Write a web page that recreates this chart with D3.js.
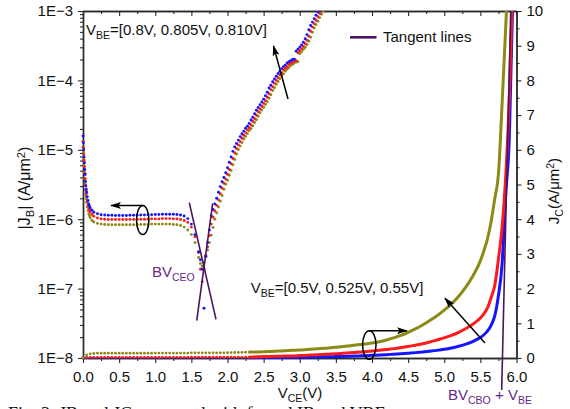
<!DOCTYPE html>
<html>
<head>
<meta charset="utf-8">
<script src="https://cdn.jsdelivr.net/npm/d3@7"></script>
<style>
  html, body { margin: 0; padding: 0; background: #fff; }
  svg { display: block; font-family: "Liberation Sans", Arial, Helvetica, sans-serif; }
</style>
</head>
<body>
<svg id="chart" width="570" height="409"></svg>
<script>
// ---------- data ----------
// |J_B| (A/um^2) vs V_CE for V_BE = 0.8 V (olive), 0.805 V (red), 0.810 V (blue)
const vB = [
  0, 0.005, 0.01, 0.015, 0.02, 0.025, 0.03, 0.035, 0.04, 0.045, 0.05, 0.06, 0.07, 0.08, 0.09, 0.10, 0.125, 0.15,
  0.20, 0.25, 0.30, 0.35, 0.40, 0.45, 0.50, 0.55, 0.60, 0.65, 0.70, 0.75, 0.80, 0.85, 0.90, 0.95, 1.00, 1.05,
  1.10, 1.15, 1.20, 1.25, 1.30, 1.35, 1.40, 1.45, 1.50, 1.55, 1.60,
  1.625, 1.65, 1.675, 1.70, 1.725,
  1.75, 1.775, 1.80, 1.825, 1.85, 1.875, 1.90, 1.925, 1.95, 1.975, 2.00, 2.025, 2.05, 2.075, 2.10, 2.125,
  2.15, 2.175, 2.20, 2.225, 2.25, 2.275, 2.30, 2.325, 2.35, 2.375, 2.40, 2.425, 2.45, 2.475, 2.50, 2.525,
  2.55, 2.575, 2.60, 2.625, 2.65, 2.675, 2.70, 2.725, 2.75, 2.775, 2.80, 2.825, 2.85, 2.875, 2.90, 2.925,
  2.95, 2.975, 3.00, 3.025, 3.05, 3.075, 3.10, 3.125, 3.15, 3.175, 3.20, 3.225, 3.25, 3.275, 3.30, 3.325, 3.35
];
const jbBlue = [
  1.58e-5, 1.26e-5, 1.00e-5, 7.9e-6, 6.5e-6, 5.2e-6, 4.4e-6, 3.5e-6, 3.0e-6, 2.7e-6, 2.45e-6, 2.1e-6, 1.86e-6, 1.66e-6, 1.55e-6, 1.45e-6, 1.35e-6, 1.26e-6,
  1.20e-6, 1.16e-6, 1.15e-6, 1.14e-6, 1.14e-6, 1.13e-6, 1.13e-6, 1.13e-6, 1.13e-6, 1.14e-6, 1.14e-6, 1.14e-6, 1.15e-6, 1.15e-6, 1.16e-6, 1.16e-6, 1.17e-6, 1.17e-6,
  1.18e-6, 1.18e-6, 1.18e-6, 1.18e-6, 1.17e-6, 1.15e-6, 1.11e-6, 1.02e-6, 8.5e-7, 6.0e-7, 3.4e-7,
  2.6e-7, 1.9e-7, 5.2e-8, 2.9e-7, 4.6e-7,
  7.0e-7, 1.12e-6, 1.38e-6, 1.66e-6, 2.0e-6, 2.45e-6, 2.95e-6, 3.47e-6, 3.98e-6, 4.68e-6, 5.5e-6, 6.6e-6, 7.9e-6, 9.5e-6, 1.10e-5, 1.23e-5,
  1.38e-5, 1.55e-5, 1.70e-5, 1.86e-5, 2.04e-5, 2.19e-5, 2.40e-5, 2.69e-5, 2.95e-5, 3.31e-5, 3.72e-5, 4.07e-5, 4.47e-5, 4.90e-5, 5.37e-5, 6.03e-5,
  6.76e-5, 7.76e-5, 8.51e-5, 9.55e-5, 1.05e-4, 1.15e-4, 1.26e-4, 1.35e-4, 1.48e-4, 1.58e-4, 1.66e-4, 1.78e-4, 1.86e-4, 1.93e-4, 2.00e-4, 2.02e-4,
  2.63e-4, 2.82e-4, 3.02e-4, 3.24e-4, 3.55e-4, 3.98e-4, 4.57e-4, 5.37e-4, 6.17e-4, 6.92e-4, 7.76e-4, 8.71e-4, 9.77e-4, 1.10e-3, 1.23e-3, 1.38e-3, 1.55e-3
];
const jbRed = [
  1.32e-5, 1.08e-5, 8.7e-6, 7.0e-6, 5.7e-6, 4.6e-6, 3.8e-6, 3.1e-6, 2.6e-6, 2.3e-6, 2.1e-6, 1.8e-6, 1.6e-6, 1.45e-6, 1.35e-6, 1.27e-6, 1.17e-6, 1.10e-6,
  1.04e-6, 1.01e-6, 1.00e-6, 0.99e-6, 0.99e-6, 0.99e-6, 0.99e-6, 0.99e-6, 0.99e-6, 0.99e-6, 0.99e-6, 1.00e-6, 1.00e-6, 1.00e-6, 1.00e-6, 1.01e-6, 1.01e-6, 1.01e-6,
  1.02e-6, 1.02e-6, 1.02e-6, 1.01e-6, 1.01e-6, 0.99e-6, 0.96e-6, 9.0e-7, 7.7e-7, 5.6e-7, 3.3e-7,
  1.9e-7, 1.25e-7, 1.9e-7, 3.0e-7, 4.0e-7,
  5.8e-7, 8.5e-7, 1.07e-6, 1.31e-6, 1.58e-6, 1.90e-6, 2.33e-6, 2.80e-6, 3.30e-6, 3.78e-6, 4.45e-6, 5.2e-6, 6.3e-6, 7.5e-6, 9.0e-6, 1.04e-5,
  1.17e-5, 1.31e-5, 1.47e-5, 1.62e-5, 1.77e-5, 1.94e-5, 2.08e-5, 2.28e-5, 2.56e-5, 2.80e-5, 3.14e-5, 3.53e-5, 3.87e-5, 4.25e-5, 4.66e-5, 5.10e-5,
  5.73e-5, 6.42e-5, 7.37e-5, 8.08e-5, 9.07e-5, 1.00e-4, 1.09e-4, 1.20e-4, 1.28e-4, 1.41e-4, 1.50e-4, 1.58e-4, 1.69e-4, 1.77e-4, 1.83e-4, 1.90e-4,
  1.92e-4, 2.50e-4, 2.68e-4, 2.87e-4, 3.08e-4, 3.37e-4, 3.78e-4, 4.34e-4, 5.10e-4, 5.86e-4, 6.57e-4, 7.37e-4, 8.27e-4, 9.28e-4, 1.04e-3, 1.17e-3, 1.31e-3
];
const jbOlive = [
  1.10e-5, 9.0e-6, 7.3e-6, 5.9e-6, 4.8e-6, 3.9e-6, 3.2e-6, 2.65e-6, 2.25e-6, 1.95e-6, 1.75e-6, 1.5e-6, 1.33e-6, 1.2e-6, 1.12e-6, 1.05e-6, 9.6e-7, 9.1e-7,
  8.7e-7, 8.5e-7, 8.4e-7, 8.3e-7, 8.3e-7, 8.3e-7, 8.3e-7, 8.3e-7, 8.3e-7, 8.3e-7, 8.3e-7, 8.4e-7, 8.4e-7, 8.4e-7, 8.4e-7, 8.5e-7, 8.5e-7, 8.5e-7,
  8.5e-7, 8.5e-7, 8.5e-7, 8.4e-7, 8.3e-7, 8.1e-7, 7.7e-7, 7.0e-7, 6.0e-7, 4.6e-7, 2.8e-7,
  2.3e-7, 2.1e-7, 2.4e-7, 2.9e-7, 3.6e-7,
  4.6e-7, 5.9e-7, 7.6e-7, 1.00e-6, 1.24e-6, 1.50e-6, 1.82e-6, 2.20e-6, 2.70e-6, 3.20e-6, 3.65e-6, 4.30e-6, 5.05e-6, 6.10e-6, 7.25e-6, 8.70e-6,
  1.01e-5, 1.13e-5, 1.27e-5, 1.43e-5, 1.56e-5, 1.71e-5, 1.88e-5, 2.01e-5, 2.21e-5, 2.47e-5, 2.71e-5, 3.05e-5, 3.42e-5, 3.74e-5, 4.11e-5, 4.51e-5,
  4.94e-5, 5.55e-5, 6.22e-5, 7.14e-5, 7.83e-5, 8.79e-5, 9.66e-5, 1.06e-4, 1.16e-4, 1.24e-4, 1.36e-4, 1.45e-4, 1.53e-4, 1.64e-4, 1.71e-4, 1.78e-4,
  1.84e-4, 1.86e-4, 2.42e-4, 2.59e-4, 2.78e-4, 2.98e-4, 3.27e-4, 3.66e-4, 4.20e-4, 4.94e-4, 5.68e-4, 6.37e-4, 7.14e-4, 8.01e-4, 8.99e-4, 1.01e-3, 1.13e-3
];

// J_C (A/um^2) vs V_CE for V_BE = 0.5 V (blue), 0.525 V (red), 0.55 V (olive)
const vC = [
  0, 0.05, 0.1, 0.15, 0.2, 0.25, 0.3, 0.35, 0.4, 0.45, 0.5, 0.55, 0.6, 0.65, 0.7, 0.75, 0.8, 0.85, 0.9, 0.95,
  1.0, 1.05, 1.1, 1.15, 1.2, 1.25, 1.3, 1.35, 1.4, 1.45, 1.5, 1.55, 1.6, 1.65, 1.7, 1.75, 1.8, 1.85, 1.9, 1.95,
  2.0, 2.05, 2.1, 2.15, 2.2, 2.25, 2.3,
  2.4, 2.5, 2.6, 2.7, 2.8, 2.9, 3.0, 3.1, 3.2, 3.3, 3.4, 3.5, 3.6, 3.7, 3.8, 3.9, 4.0, 4.1, 4.2, 4.3, 4.4, 4.5,
  4.6, 4.7, 4.8, 4.9, 5.0, 5.1, 5.2, 5.3, 5.4, 5.5,
  5.55, 5.6, 5.65, 5.7, 5.75, 5.8, 5.85, 5.9, 5.95, 6.0
];
const jcOlive = [
  0, 0.09, 0.12, 0.13, 0.14, 0.14, 0.14, 0.14, 0.14, 0.14, 0.14, 0.14, 0.14, 0.14, 0.14, 0.14, 0.14, 0.14, 0.14, 0.14,
  0.142, 0.142, 0.142, 0.142, 0.142, 0.142, 0.142, 0.142, 0.142, 0.142, 0.148, 0.148, 0.148, 0.148, 0.148, 0.148, 0.148, 0.148, 0.148, 0.148,
  0.152, 0.155, 0.158, 0.16, 0.163, 0.166, 0.17,
  0.175, 0.18, 0.19, 0.2, 0.21, 0.22, 0.23, 0.245, 0.26, 0.275, 0.29, 0.31, 0.33, 0.355, 0.38, 0.405, 0.43, 0.47, 0.52, 0.58, 0.65, 0.74,
  0.84, 0.95, 1.08, 1.22, 1.38, 1.56, 1.78, 2.05, 2.38, 2.8,
  3.1, 3.45, 3.95, 4.6, 5.3, 7.3, 9.5, 11.8, 14, 16
];
const jcRed = [
  0, 0.015, 0.02, 0.02, 0.02, 0.02, 0.02, 0.02, 0.02, 0.02, 0.02, 0.02, 0.02, 0.02, 0.02, 0.02, 0.02, 0.02, 0.02, 0.02,
  0.02, 0.02, 0.02, 0.02, 0.02, 0.02, 0.02, 0.02, 0.02, 0.02, 0.025, 0.025, 0.025, 0.025, 0.025, 0.025, 0.025, 0.025, 0.025, 0.025,
  0.025, 0.025, 0.025, 0.025, 0.025, 0.025, 0.025,
  0.035, 0.04, 0.045, 0.05, 0.055, 0.06, 0.07, 0.08, 0.09, 0.1, 0.11, 0.12, 0.135, 0.15, 0.165, 0.18, 0.2, 0.22, 0.245, 0.27, 0.3, 0.33,
  0.37, 0.41, 0.46, 0.52, 0.58, 0.65, 0.74, 0.85, 0.98, 1.15,
  1.28, 1.45, 1.75, 2.1, 2.85, 3.75, 5.2, 7.5, 11, 15
];
const jcBlue = [
  0, 0.005, 0.006, 0.006, 0.006, 0.006, 0.006, 0.006, 0.006, 0.006, 0.006, 0.006, 0.006, 0.006, 0.006, 0.006, 0.006, 0.006, 0.006, 0.006,
  0.006, 0.006, 0.006, 0.006, 0.006, 0.006, 0.006, 0.006, 0.006, 0.006, 0.008, 0.008, 0.008, 0.008, 0.008, 0.008, 0.008, 0.008, 0.008, 0.008,
  0.008, 0.008, 0.008, 0.008, 0.008, 0.008, 0.008,
  0.012, 0.013, 0.014, 0.016, 0.018, 0.02, 0.022, 0.025, 0.028, 0.032, 0.036, 0.04, 0.046, 0.052, 0.059, 0.067, 0.076, 0.086, 0.097, 0.11, 0.123, 0.138,
  0.155, 0.174, 0.196, 0.22, 0.25, 0.29, 0.34, 0.4, 0.48, 0.59,
  0.67, 0.78, 0.95, 1.22, 1.8, 2.7, 4.7, 6.3, 10.5, 16
];
// below this V_CE the J_C sweep is shown as markers, above it as a line
const jcLineFrom = 2.3;

// tangent lines: [V_CE, J] end points
const tangentCEO = [
  [[1.471, 1.73e-6], [1.841, 3.6e-8]],
  [[1.795, 1.69e-6], [1.574, 3.45e-8]]
];
const tangentCBO = [[5.795, -0.92], [5.92, 10.0]];

// axis ticks
const xMajorTicks = [0, 0.5, 1, 1.5, 2, 2.5, 3, 3.5, 4, 4.5, 5, 5.5, 6];
const xMinorTicks = [0.25, 0.75, 1.25, 1.75, 2.25, 2.75, 3.25, 3.75, 4.25, 4.75, 5.25, 5.75];
const jbDecades = [1e-8, 1e-7, 1e-6, 1e-5, 1e-4, 1e-3];
const jbDecadeLabels = ["1E\u22128", "1E\u22127", "1E\u22126", "1E\u22125", "1E\u22124", "1E\u22123"];
const jcMajorTicks = [0, 1, 2, 3, 4, 5, 6, 7, 8, 9, 10];
const jcMinorTicks = [0.5, 1.5, 2.5, 3.5, 4.5, 5.5, 6.5, 7.5, 8.5, 9.5];

const colors = { blue: "#1414ff", red: "#ff1a1a", olive: "#8a8a14" };
const purple = "#4a1462";
const labelPurple = "#66288a";

// ---------- layout ----------
const plot = { left: 83, right: 516.5, top: 11, bottom: 358 };
const svg = d3.select("#chart");

const x = d3.scaleLinear().domain([0, 6]).range([plot.left, plot.right]);
const yB = d3.scaleLog().domain([1e-8, 1e-3]).range([plot.bottom, plot.top]);
const yC = d3.scaleLinear().domain([0, 10]).range([plot.bottom, plot.top]);

const defs = svg.append("defs");
defs.append("clipPath").attr("id", "plotClip").append("rect")
  .attr("x", plot.left - 2).attr("y", plot.top)
  .attr("width", plot.right - plot.left + 2).attr("height", plot.bottom - plot.top + 2);
defs.append("marker").attr("id", "arrowHead")
  .attr("viewBox", "0 0 11 7").attr("refX", 10).attr("refY", 3.5)
  .attr("markerUnits", "userSpaceOnUse").attr("markerWidth", 11).attr("markerHeight", 7)
  .attr("orient", "auto")
  .append("path").attr("d", "M0,0 L11,3.5 L0,7 L2.5,3.5 Z").attr("fill", "#000");

// ---------- axes ----------
const axisColor = "#2a2a2a";
function styleAxis(g) {
  g.select(".domain").attr("stroke", axisColor).attr("stroke-width", 1.4);
  g.selectAll(".tick line").attr("stroke", axisColor).attr("stroke-width", 1.1);
  g.selectAll(".tick text").attr("font-size", 15).attr("fill", "#111")
    .attr("font-family", "Liberation Sans, Arial, sans-serif");
}
const axes = svg.append("g");

// bottom
axes.append("g").attr("transform", `translate(0,${plot.bottom})`)
  .call(d3.axisBottom(x).tickValues(xMinorTicks).tickSize(3).tickSizeOuter(0).tickFormat(""))
  .call(styleAxis);
axes.append("g").attr("transform", `translate(0,${plot.bottom})`)
  .call(d3.axisBottom(x).tickValues(xMajorTicks).tickSize(5).tickSizeOuter(0).tickPadding(8)
    .tickFormat(d3.format(".1f")))
  .call(styleAxis);
// top (ticks pointing inward)
axes.append("g").attr("transform", `translate(0,${plot.top})`)
  .call(d3.axisBottom(x).tickValues(xMinorTicks).tickSize(3).tickSizeOuter(0).tickFormat(""))
  .call(styleAxis);
axes.append("g").attr("transform", `translate(0,${plot.top})`)
  .call(d3.axisBottom(x).tickValues(xMajorTicks).tickSize(5).tickSizeOuter(0).tickFormat(""))
  .call(styleAxis);
// left (log)
const jbMinor = [];
jbDecades.slice(0, -1).forEach(d => { for (let k = 2; k <= 9; k++) jbMinor.push(d * k); });
axes.append("g").attr("transform", `translate(${plot.left},0)`)
  .call(d3.axisLeft(yB).tickValues(jbMinor).tickSize(3).tickSizeOuter(0).tickFormat(""))
  .call(styleAxis);
axes.append("g").attr("transform", `translate(${plot.left},0)`)
  .call(d3.axisLeft(yB).tickValues(jbDecades).tickSize(5).tickSizeOuter(0).tickPadding(5)
    .tickFormat((d, i) => jbDecadeLabels[i]))
  .call(styleAxis);
// right (linear)
axes.append("g").attr("transform", `translate(${plot.right},0)`)
  .call(d3.axisRight(yC).tickValues(jcMinorTicks).tickSize(3).tickSizeOuter(0).tickFormat(""))
  .call(styleAxis);
axes.append("g").attr("transform", `translate(${plot.right},0)`)
  .call(d3.axisRight(yC).tickValues(jcMajorTicks).tickSize(5).tickSizeOuter(0).tickPadding(5)
    .tickFormat(d3.format("d")))
  .call(styleAxis);

// ---------- rich text helper (sub/superscripts) ----------
function richText(parent, xPos, yPos, parts, opts = {}) {
  const size = opts.size || 15;
  const t = parent.append("text").attr("x", xPos).attr("y", yPos)
    .attr("font-size", size).attr("fill", opts.fill || "#111")
    .attr("text-anchor", opts.anchor || "start");
  if (opts.family) t.attr("font-family", opts.family);
  if (opts.transform) t.attr("transform", opts.transform);
  let shift = 0;
  parts.forEach(([str, kind]) => {
    const target = kind === "sub" ? size * 0.27 : kind === "sup" ? -size * 0.33 : 0;
    const s = t.append("tspan").text(str).attr("dy", target - shift);
    if (kind) s.attr("font-size", size * 0.7);
    shift = target;
  });
  return t;
}

// axis titles
richText(svg, 300, 398, [["V", null], ["CE", "sub"], ["(V)", null]], { anchor: "middle" });
richText(svg, 0, 0, [["|J", null], ["B", "sub"], ["| (A/\u03bcm", null], ["2", "sup"], [")", null]],
  { anchor: "middle", size: 16, transform: "translate(30,188) rotate(-90)" });
richText(svg, 0, 0, [["J", null], ["C", "sub"], ["(A/\u03bcm", null], ["2", "sup"], [")", null]],
  { anchor: "middle", transform: "translate(559,191) rotate(-90)" });

// ---------- data layers ----------
const data = svg.append("g").attr("clip-path", "url(#plotClip)");

function zipSeries(vs, js) { return vs.map((v, i) => ({ v, j: js[i] })); }

// J_C: markers at low V_CE, line above
[["blue", jcBlue], ["red", jcRed], ["olive", jcOlive]].forEach(([c, js]) => {
  const pts = zipSeries(vC, js);
  data.append("g").selectAll("circle").data(pts.filter(p => p.v <= jcLineFrom)).join("circle")
    .attr("cx", p => x(p.v)).attr("cy", p => yC(p.j)).attr("r", 1.4).attr("fill", colors[c]);
  data.append("path").datum(pts.filter(p => p.v >= jcLineFrom))
    .attr("fill", "none").attr("stroke", colors[c]).attr("stroke-width", 3)
    .attr("d", d3.line().x(p => x(p.v)).y(p => yC(p.j)).curve(d3.curveMonotoneX));
});

// J_B markers
[["olive", jbOlive], ["red", jbRed], ["blue", jbBlue]].forEach(([c, js]) => {
  data.append("g").selectAll("circle").data(zipSeries(vB, js)).join("circle")
    .attr("cx", p => x(p.v)).attr("cy", p => yB(p.j)).attr("r", 1.45).attr("fill", colors[c]);
});

// tangent lines
const ann = svg.append("g");
tangentCEO.forEach(seg => {
  ann.append("line")
    .attr("x1", x(seg[0][0])).attr("y1", yB(seg[0][1]))
    .attr("x2", x(seg[1][0])).attr("y2", yB(seg[1][1]))
    .attr("stroke", purple).attr("stroke-width", 1.6);
});
ann.append("line")
  .attr("x1", x(tangentCBO[0][0])).attr("y1", yC(tangentCBO[0][1]))
  .attr("x2", x(tangentCBO[1][0])).attr("y2", yC(tangentCBO[1][1]))
  .attr("stroke", purple).attr("stroke-width", 1.6);

// ---------- annotations ----------
richText(ann, 86, 34.5, [["V", null], ["BE", "sub"], ["=[0.8V, 0.805V, 0.810V]", null]]);
ann.append("line").attr("x1", 288).attr("y1", 99).attr("x2", 273.5).attr("y2", 46)
  .attr("stroke", "#000").attr("stroke-width", 1.5).attr("marker-end", "url(#arrowHead)");

// legend
ann.append("line").attr("x1", 350).attr("x2", 376.5).attr("y1", 37.3).attr("y2", 37.3)
  .attr("stroke", purple).attr("stroke-width", 2.6);
ann.append("text").attr("x", 383).attr("y", 41.5).attr("font-size", 15).attr("fill", "#111").text("Tangent lines");

// J_B group marker: ellipse + arrow to the left axis
ann.append("ellipse").attr("cx", 142.7).attr("cy", 220).attr("rx", 6.2).attr("ry", 14.5)
  .attr("fill", "none").attr("stroke", "#000").attr("stroke-width", 1.5);
ann.append("line").attr("x1", 142.7).attr("y1", 205.5).attr("x2", 111).attr("y2", 205.5)
  .attr("stroke", "#000").attr("stroke-width", 1.5).attr("marker-end", "url(#arrowHead)");

// J_C group marker: ellipse + arrow to the right axis
ann.append("ellipse").attr("cx", 369.3).attr("cy", 345).attr("rx", 6.7).attr("ry", 14.3)
  .attr("fill", "none").attr("stroke", "#000").attr("stroke-width", 1.5);
ann.append("line").attr("x1", 369.3).attr("y1", 330.7).attr("x2", 407).attr("y2", 330.7)
  .attr("stroke", "#000").attr("stroke-width", 1.5).attr("marker-end", "url(#arrowHead)");

richText(ann, 250.7, 293.3, [["V", null], ["BE", "sub"], ["=[0.5V, 0.525V, 0.55V]", null]]);
ann.append("line").attr("x1", 485).attr("y1", 343).attr("x2", 445).attr("y2", 298.3)
  .attr("stroke", "#000").attr("stroke-width", 1.5).attr("marker-end", "url(#arrowHead)");

richText(ann, 152, 277, [["BV", null], ["CEO", "sub"]], { fill: labelPurple });
richText(ann, 448, 400, [["BV", null], ["CBO", "sub"], [" + V", null], ["BE", "sub"]], { fill: labelPurple });

// figure caption line, running off the bottom edge of the figure
svg.append("text").attr("x", 8).attr("y", 420).attr("font-size", 18)
  .attr("font-family", "Liberation Serif, Times New Roman, serif").attr("fill", "#111")
  .text("Fig. 3. JB and JC measured with forced IB and VBE.");
</script>
</body>
</html>
